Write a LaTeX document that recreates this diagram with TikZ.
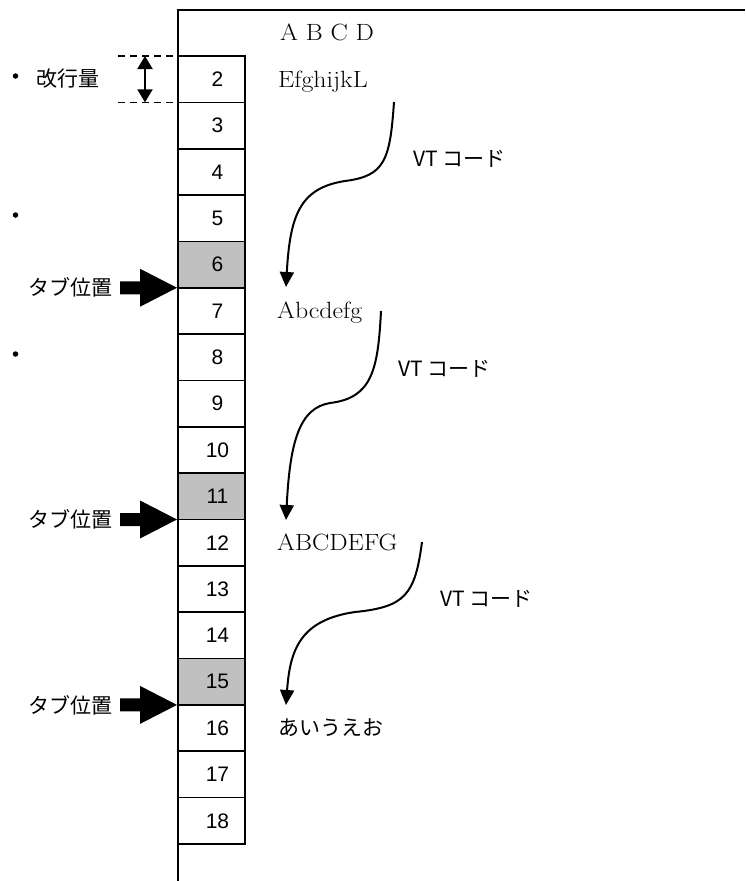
\documentclass[tikz,border=0pt]{standalone}
\usepackage{fontspec}
\newfontfamily\jpfont{Noto Sans CJK JP}
\newfontfamily\arfont{Liberation Sans}
\newfontfamily\serfont{Latin Modern Roman}[FakeStretch=1.1]
\usetikzlibrary{arrows.meta,calc}
\definecolor{tabgray}{RGB}{192,192,192}
\begin{document}
\begin{tikzpicture}[x=1pt,y=-1pt,
  cellbox/.style={draw, line width=1.6pt, minimum width=67pt, minimum height=46.35pt, inner sep=0pt, outer sep=0pt},
  numtxt/.style={font=\arfont\fontsize{21}{25}\selectfont, inner sep=0pt},
  jptxt/.style={font=\jpfont\fontsize{21}{25}\selectfont, inner sep=0pt},
  sertxt/.style={font=\serfont\fontsize{23.5}{28}\selectfont, inner sep=0pt},
  vtarrow/.style={line width=2pt, -{Triangle[length=15pt,width=14pt]}},
  dashln/.style={line width=1.2pt, dash pattern=on 7pt off 5pt},
  dot/.style={circle, fill=black, inner sep=0pt, minimum size=5.5pt}
]
\useasboundingbox (0,0) rectangle (745,881);

% frame
\draw[line width=1.6pt] (178,881) -- (178,10) -- (745,10);

% cells
\foreach \i/\f in {2/white,3/white,4/white,5/white,6/tabgray,7/white,8/white,9/white,10/white,11/tabgray,12/white,13/white,14/white,15/tabgray,16/white,17/white,18/white}{
  \node[cellbox, fill=\f] (b\i) at (211.5, {79.175+(\i-2)*46.35}) {};
  \node[numtxt] (n\i) at ([xshift=6pt]b\i.center) {\i};
}

% texts in the frame
\node[sertxt, anchor=base west] (tabcd) at (280,40) {A B C D};
\node[sertxt, anchor=base west] (t2) at (278,87) {EfghijkL};
\node[sertxt, anchor=base west] (t7) at (277,318) {Abcdefg};
\node[sertxt, anchor=base west] (t12) at (277,550) {ABCDEFG};
\node[jptxt, anchor=west] (t16) at (278,727.5) {あいうえお};

\node[jptxt, anchor=west] (vt1) at (413,158.5) {VT コード};
\node[jptxt, anchor=west] (vt2) at (398,368.5) {VT コード};
\node[jptxt, anchor=west] (vt3) at (440,599) {VT コード};

% VT curves
\coordinate (s1) at (394,102);   \coordinate (e1) at (286,287);
\coordinate (s2) at (381,311);   \coordinate (e2) at (286,520);
\coordinate (s3) at (422,542);   \coordinate (e3) at (286,705);
\draw[vtarrow] (s1) .. controls (390,160) and (385,176) .. (345,181) .. controls (300,188) and (290,215) .. (e1);
\draw[vtarrow] (s2) .. controls (378,370) and (372,398) .. (330,403) .. controls (300,408) and (290,440) .. (e2);
\draw[vtarrow] (s3) .. controls (415,595) and (405,607) .. (355,612) .. controls (300,620) and (290,650) .. (e3);

% tab arrows and labels
\foreach \k in {6,11,15}{
  \fill[black] ([xshift=-58pt,yshift=6.5pt]b\k.south west) -- ([xshift=-38pt,yshift=6.5pt]b\k.south west)
     -- ([xshift=-38pt,yshift=19pt]b\k.south west) -- ([xshift=-1pt]b\k.south west)
     -- ([xshift=-38pt,yshift=-19pt]b\k.south west) -- ([xshift=-38pt,yshift=-6.5pt]b\k.south west)
     -- ([xshift=-58pt,yshift=-6.5pt]b\k.south west) -- cycle;
  \node[jptxt, anchor=west] (tab\k) at ([xshift=-150pt]b\k.south west) {タブ位置};
}

% line pitch
\coordinate (d1) at ([xshift=-60pt]b2.north west);
\coordinate (d2) at ([xshift=-60pt]b2.south west);
\draw[dashln] (d1) -- (b2.north west);
\draw[dashln] (d2) -- (b2.south west);
\coordinate (p1) at ([xshift=-33pt]b2.north west);
\coordinate (p2) at ([xshift=-33pt]b2.south west);
\draw[line width=2pt, {Triangle[length=13pt,width=15pt]}-{Triangle[length=13pt,width=15pt]}] (p1) -- (p2);
\node[jptxt, anchor=west] (kg) at (36,79) {改行量};

% bullets
\node[dot] (bu1) at (15.5,76) {};
\node[dot] (bu2) at (15.5,215) {};
\node[dot] (bu3) at (15.5,354) {};
\end{tikzpicture}
\end{document}
